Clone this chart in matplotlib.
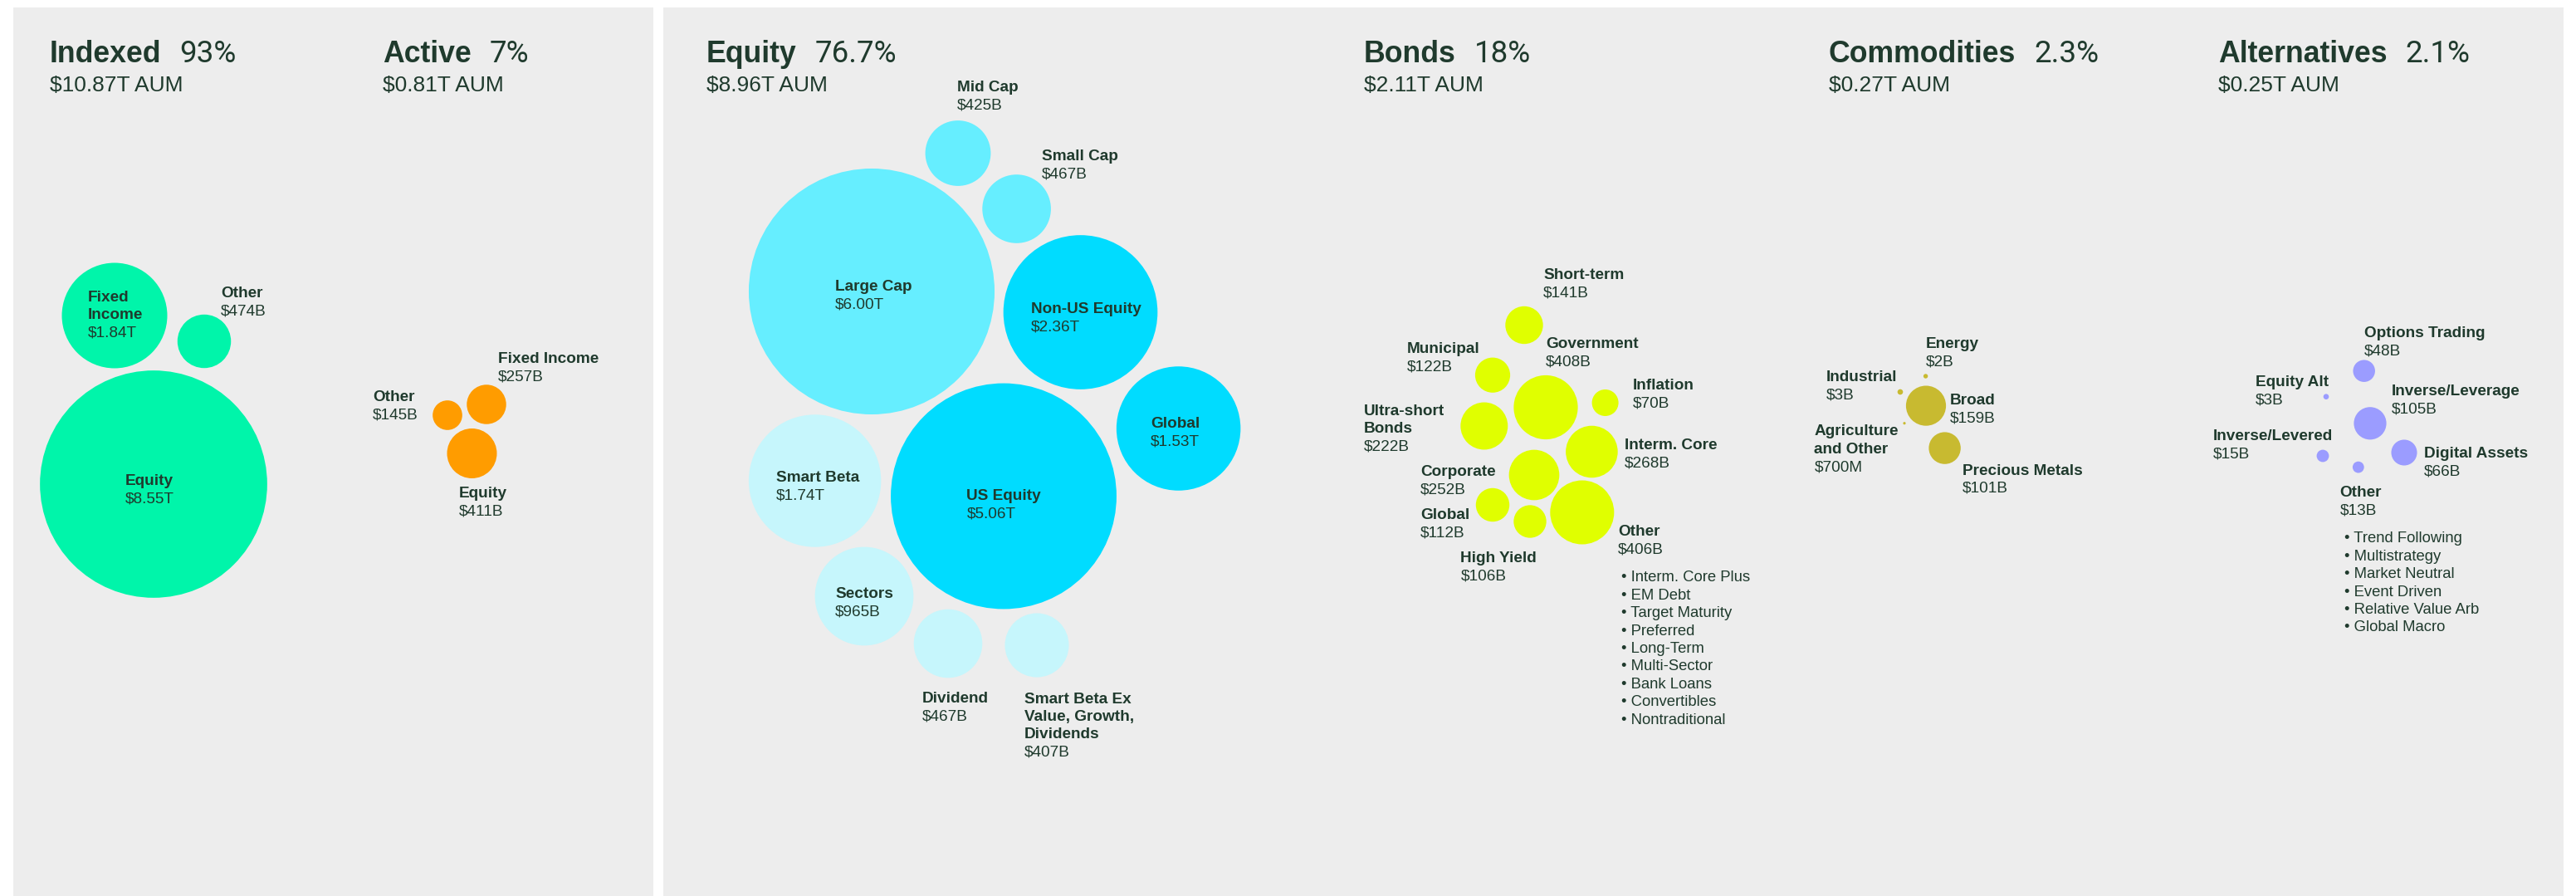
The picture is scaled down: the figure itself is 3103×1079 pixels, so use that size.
import matplotlib
matplotlib.use('Agg')
import matplotlib.pyplot as plt
from matplotlib.patches import Circle, Rectangle
import numpy as np

plt.rcParams['font.family'] = ['Liberation Sans', 'DejaVu Sans']

# ---- datos (valores en miles de millones, $B) ----
group_titles = ['Indexed', 'Active', 'Equity', 'Bonds', 'Commodities', 'Alternatives']
group_pcts = ['93%', '7%', '76.7%', '18%', '2.3%', '2.1%']
group_aum = [10.87, 0.81, 8.96, 2.11, 0.27, 0.25]  # $T

indexed_names = ['Fixed\nIncome', 'Other', 'Equity']
indexed_values = [1840, 474, 8550]

active_names = ['Other', 'Fixed Income', 'Equity']
active_values = [145, 257, 411]

equity_names = ['Mid Cap', 'Small Cap', 'Large Cap', 'Non-US Equity', 'Global',
                'US Equity', 'Smart Beta', 'Sectors', 'Dividend',
                'Smart Beta Ex\nValue, Growth,\nDividends']
equity_values = [425, 467, 6000, 2360, 1530, 5060, 1740, 965, 467, 407]

bonds_names = ['Short-term', 'Municipal', 'Government', 'Inflation', 'Ultra-short\nBonds',
               'Interm. Core', 'Corporate', 'Global', 'High Yield', 'Other']
bonds_values = [141, 122, 408, 70, 222, 268, 252, 112, 106, 406]
bonds_other_items = ['Interm. Core Plus', 'EM Debt', 'Target Maturity', 'Preferred',
                     'Long-Term', 'Multi-Sector', 'Bank Loans', 'Convertibles', 'Nontraditional']

commod_names = ['Industrial', 'Energy', 'Agriculture\nand Other', 'Broad', 'Precious Metals']
commod_values = [3, 2, 0.7, 159, 101]

alt_names = ['Options Trading', 'Equity Alt', 'Inverse/Leverage', 'Inverse/Levered',
             'Digital Assets', 'Other']
alt_values = [48, 3, 105, 15, 66, 13]
alt_other_items = ['Trend Following', 'Multistrategy', 'Market Neutral', 'Event Driven',
                   'Relative Value Arb', 'Global Macro']

# ---- estilo / layout (pixeles) ----
TXT = '#1f3a2d'
BG = '#ededed'
C_IDX = '#00f5aa'
C_ACT = '#ff9c00'
C_EQ1 = '#66eeff'
C_EQ2 = '#00dcff'
C_EQ3 = '#c6f6fc'
C_BND = '#e0ff00'
C_COM = '#c8ba30'
C_ALT = '#9b9cff'

K_A = 1.48   # escala radio panel Indexed/Active
K_B = 1.911  # escala radio panel por clase de activo

title_x = [60, 461, 851, 1643, 2203, 2672]

indexed_xy = [(138, 380), (246, 411), (185, 583)]
indexed_lab = [(106, 356), (266, 351), (151, 577)]

active_xy = [(539, 500), (586, 487), (568.5, 546)]
active_lab = [(449, 476), (599.5, 430), (553, 592)]

equity_xy = [(1154, 184.5), (1224.6, 251.5), (1050, 351), (1301.5, 376), (1419.6, 516),
             (1209, 597.5), (981.6, 579), (1041, 718), (1142, 775), (1249, 777)]
equity_lab = [(1153, 103), (1255, 186), (1006, 343), (1242, 370), (1386, 508),
              (1164.5, 595), (935, 573), (1006, 713), (1111, 839), (1234, 840)]
equity_col = [C_EQ1, C_EQ1, C_EQ1, C_EQ2, C_EQ2, C_EQ2, C_EQ3, C_EQ3, C_EQ3, C_EQ3]

bonds_xy = [(1836, 391.5), (1798, 451.7), (1862, 490.5), (1933.6, 485), (1787.8, 513),
            (1917.4, 544), (1848, 572), (1798, 608), (1843, 628), (1905.8, 617)]
bonds_lab = [(1859, 329), (1694.6, 418), (1862, 412.6), (1966.5, 462.5), (1643, 493),
             (1957, 534), (1711, 566), (1711, 618), (1759.4, 670), (1949, 638)]

commod_xy = [(2289, 472), (2319.6, 453), (2294, 509.7), (2320, 488.6), (2342.6, 539.6)]
commod_lab = [(2200, 452), (2319.6, 412.6), (2185.4, 517.6), (2349, 480.4), (2363.8, 564.8)]

alt_xy = [(2847.7, 446.7), (2802, 477.7), (2855, 509.8), (2798, 549), (2896, 545),
          (2840.8, 562.6)]
alt_lab = [(2847.6, 399), (2717, 458), (2880.6, 469), (2665.8, 523), (2919.8, 544),
           (2818.7, 591.6)]

LS = 21.3


def fmt(v):
    if v >= 1000:
        return f'${v / 1000:.2f}T'
    if v >= 1:
        return f'${v:.0f}B'
    return f'${v * 1000:.0f}M'


def txt(x, y, s, fs, **kw):
    # y = centro de las mayusculas; se pasa a linea base
    cap = 0.716 * fs * 100 / 72
    return ax.text(x, y + cap / 2, s, fontsize=fs, color=TXT, va='baseline', ha='left', **kw)


def etiqueta(x, y, name, value, fs=13.7):
    lines = name.split('\n')
    for i, l in enumerate(lines):
        txt(x, y + i * LS, l, fs, fontweight='bold')
    txt(x, y + len(lines) * LS, fmt(value), fs)


fig = plt.figure(figsize=(31.03, 10.79), dpi=100)
fig.patch.set_facecolor('white')
ax = fig.add_axes([0, 0, 1, 1])
ax.set_xlim(0, 3103)
ax.set_ylim(1079, 0)
ax.axis('off')

# paneles de fondo
ax.add_patch(Rectangle((16, 9), 771, 1075, facecolor=BG, edgecolor='none'))
ax.add_patch(Rectangle((799, 9), 2289, 1075, facecolor=BG, edgecolor='none'))

# burbujas
grupos = [
    (indexed_names, indexed_values, indexed_xy, indexed_lab, [C_IDX] * 3, K_A),
    (active_names, active_values, active_xy, active_lab, [C_ACT] * 3, K_A),
    (equity_names, equity_values, equity_xy, equity_lab, equity_col, K_B),
    (bonds_names, bonds_values, bonds_xy, bonds_lab, [C_BND] * 10, K_B),
    (commod_names, commod_values, commod_xy, commod_lab, [C_COM] * 5, K_B),
    (alt_names, alt_values, alt_xy, alt_lab, [C_ALT] * 6, K_B),
]
for names, vals, xy, lab, cols, k in grupos:
    for n, v, (cx, cy), (lx, ly), c in zip(names, vals, xy, lab, cols):
        ax.add_patch(Circle((cx, cy), k * np.sqrt(v), facecolor=c, edgecolor='none'))
        etiqueta(lx, ly, n, v)

# listas de "Other"
for i, item in enumerate(bonds_other_items):
    txt(1953, 693.7 + i * 21.4, '• ' + item, 13.3)
for i, item in enumerate(alt_other_items):
    txt(2824, 646.6 + i * 21.45, '• ' + item, 13.3)

# titulos
renderer = fig.canvas.get_renderer()
for x, t, p, a in zip(title_x, group_titles, group_pcts, group_aum):
    tt = txt(x, 62, t, 25.7, fontweight='bold')
    bb = tt.get_window_extent(renderer)
    txt(bb.x1 + 22, 62, p, 26.5, family=['Roboto', 'DejaVu Sans'], fontweight='normal')
    txt(x, 101, f'${a:.2f}T AUM', 19)

plt.savefig('out.png', dpi=100, facecolor='white')
